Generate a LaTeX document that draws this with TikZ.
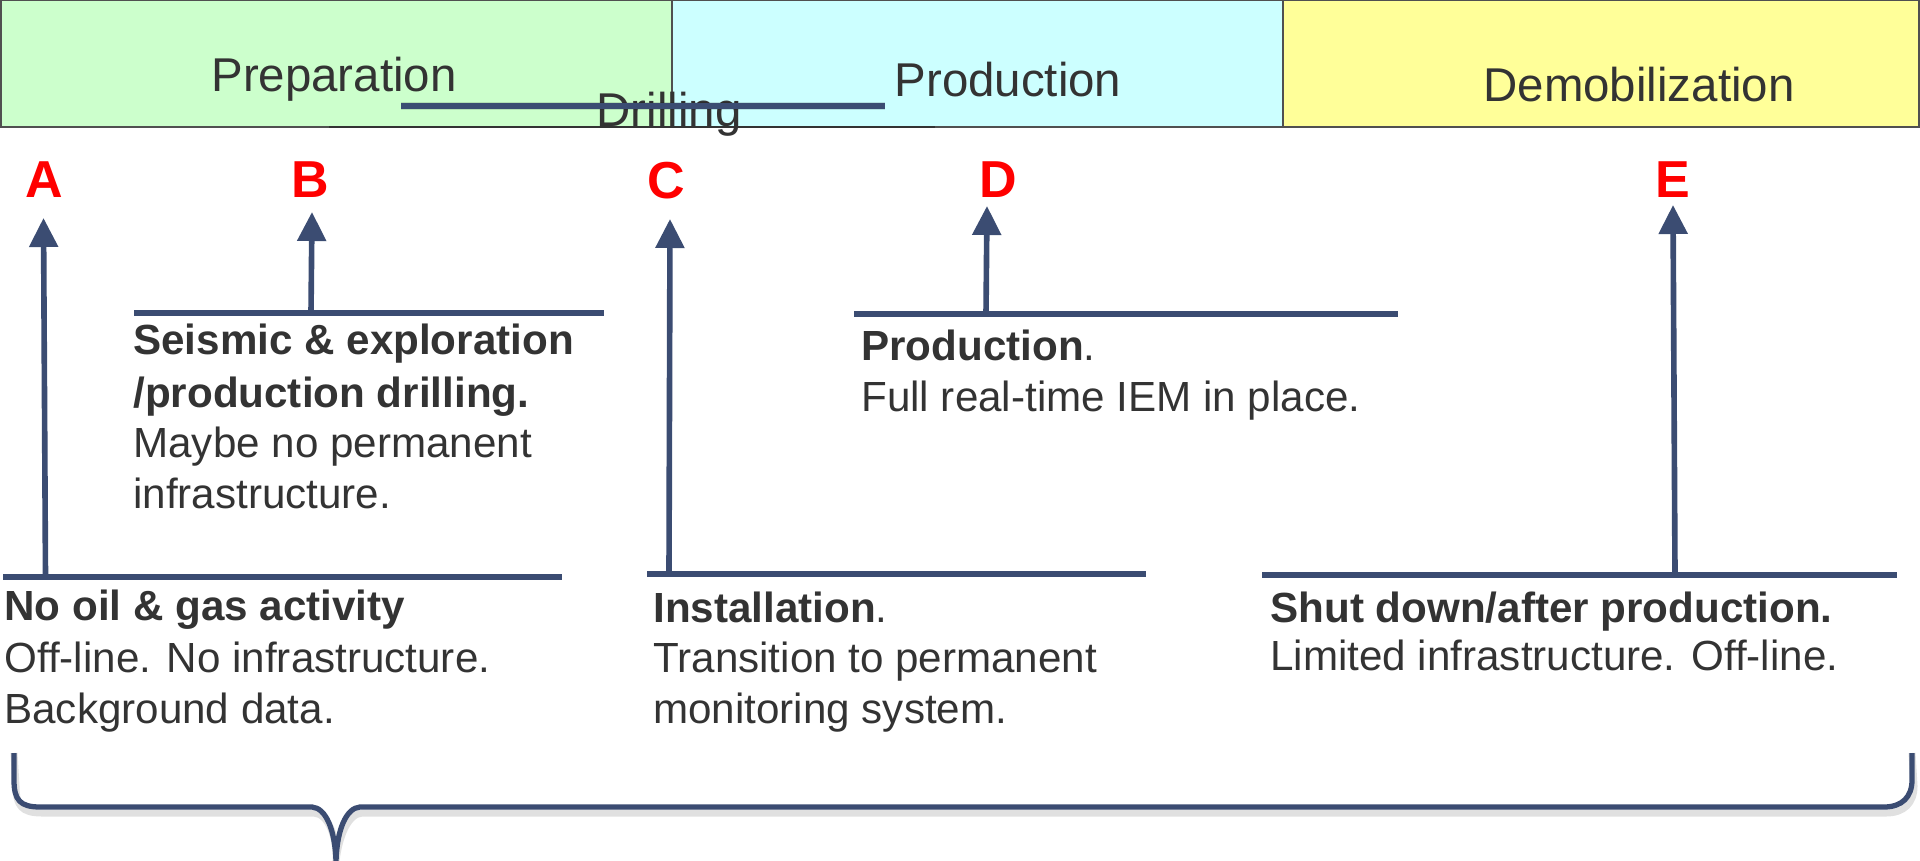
\documentclass[tikz,border=0pt]{standalone}
\usepackage{fontspec}
\setmainfont{Liberation Sans}
\usetikzlibrary{arrows.meta}

\definecolor{linkblue}{RGB}{59,76,114}
\definecolor{txtgray}{RGB}{51,51,51}
\definecolor{prepgreen}{RGB}{204,255,204}
\definecolor{prodcyan}{RGB}{204,255,255}
\definecolor{demoyellow}{RGB}{255,255,153}
\definecolor{stageedge}{RGB}{80,80,80}

\begin{document}
\begin{tikzpicture}[x=0.02cm,y=-0.02cm,
  phase/.style={draw=stageedge,line width=0.8pt},
  phaselabel/.style={anchor=base,inner sep=0,text=txtgray,font=\fontsize{27}{32}\selectfont},
  marker/.style={anchor=base,inner sep=0,text=red,font=\bfseries\fontsize{29.6}{34}\selectfont},
  ledge/.style={draw=linkblue,line width=3.5pt},
  riser/.style={draw=linkblue,line width=3.2pt,-{Triangle[length=0.58cm,width=0.56cm]}},
  headline/.style={anchor=base west,inner sep=0,text=txtgray,font=\bfseries\fontsize{24}{29}\selectfont},
  bodyline/.style={anchor=base west,inner sep=0,text=txtgray,font=\fontsize{24}{29}\selectfont},
  softshadow/.style={draw=black,line width=4pt,opacity=0.12,line join=round},
  brace/.style={draw=linkblue,line width=3pt,line join=round},
]
\useasboundingbox (0,0) rectangle (1920,861);

% phase bar
\fill[prepgreen] (0,0) rectangle (672,127);
\fill[prodcyan] (672,0) rectangle (1283,127);
\fill[demoyellow] (1283,0) rectangle (1919,127);
\draw[phase] (0.8,0.8) rectangle (1919,127);
\draw[phase] (672,0.8) -- (672,127);
\draw[phase] (1283,0.8) -- (1283,127);
\coordinate (drbl) at (329,127);
\coordinate (drbr) at (935,127);
\draw[draw=txtgray,line width=1.2pt] (drbl) -- (drbr);

\node[phaselabel] (prep) at (334,92) {Preparation};
\node[phaselabel] (prod) at (1008,97) {Production};
\node[phaselabel] (demob) at (1639,102) {Demobilization};
\node[phaselabel] (drill) at (669,127) {Drilling};

% drilling bar
\coordinate (drl) at (401,106);
\coordinate (drr) at (885,106);
\draw[softshadow,shift={(2,5)}] (drl) -- (drr);
\draw[draw=linkblue,line width=3.4pt] (drl) -- (drr);

% stage markers
\node[marker] (A) at (44.5,198) {A};
\node[marker] (B) at (310,198) {B};
\node[marker] (C) at (666,199) {C};
\node[marker] (D) at (998,198) {D};
\node[marker] (E) at (1673,198) {E};

% ledges
\coordinate (Al) at (3,577);    \coordinate (Ar) at (562,577);
\coordinate (Bl) at (134,313);  \coordinate (Br) at (604,313);
\coordinate (Cl) at (647,574);  \coordinate (Cr) at (1146,574);
\coordinate (Dl) at (854,314);  \coordinate (Dr) at (1398,314);
\coordinate (El) at (1262,575); \coordinate (Er) at (1897,575);
\draw[ledge] (Al) -- (Ar);
\draw[ledge] (Bl) -- (Br);
\draw[ledge] (Cl) -- (Cr);
\draw[ledge] (Dl) -- (Dr);
\draw[ledge] (El) -- (Er);

% risers
\coordinate (Ab) at (45.5,577); \coordinate (At) at (43.5,218);
\coordinate (Bb) at (311,313);  \coordinate (Bt) at (312,212);
\coordinate (Cb) at (669,574);  \coordinate (Ct) at (670,219);
\coordinate (Db) at (986,314);  \coordinate (Dt) at (987,206);
\coordinate (Eb) at (1675,575); \coordinate (Et) at (1673,205);
\draw[riser] (Ab) -- (At);
\draw[riser] (Bb) -- (Bt);
\draw[riser] (Cb) -- (Ct);
\draw[riser] (Db) -- (Dt);
\draw[riser] (Eb) -- (Et);

% stage descriptions
\node[headline] (a1) at (4,620) {No oil \& gas activity};
\node[bodyline] (a2) at (4,672) {Off-line. No infrastructure.};
\node[bodyline] (a3) at (4,723) {Background data.};

\node[headline] (b1) at (133,355) {Seismic \& exploration};
\node[headline] (b2) at (133,407) {/production drilling.};
\node[bodyline] (b3) at (133,458) {Maybe no permanent};
\node[bodyline] (b4) at (133,508) {infrastructure.};

\node[bodyline] (c1) at (653,622) {\bfseries Installation\mdseries.};
\node[bodyline] (c2) at (653,672) {Transition to permanent};
\node[bodyline] (c3) at (653,723) {monitoring system.};

\node[bodyline] (d1) at (861,360) {\bfseries Production\mdseries.};
\node[bodyline] (d2) at (861,412) {Full real-time IEM in place.};

\node[headline] (e1) at (1270,622) {Shut down/after production.};
\node[bodyline] (e2) at (1270,670) {Limited infrastructure. Off-line.};

% bottom brace
\coordinate (brL) at (14,753);
\coordinate (brR) at (1912,753);
\coordinate (brTip) at (336,861);
\draw[softshadow,shift={(2,6)}] (brL) -- (14,780) .. controls (14,800) and (20,807) .. (40,807)
  -- (312,807) .. controls (326,808) and (335,830) .. (brTip)
  .. controls (337,830) and (346,808) .. (360,807)
  -- (1884,807) .. controls (1902,807) and (1912,797) .. (1912,780) -- (brR);
\draw[brace] (brL) -- (14,780) .. controls (14,800) and (20,807) .. (40,807)
  -- (312,807) .. controls (326,808) and (335,830) .. (brTip)
  .. controls (337,830) and (346,808) .. (360,807)
  -- (1884,807) .. controls (1902,807) and (1912,797) .. (1912,780) -- (brR);
\end{tikzpicture}
\end{document}
